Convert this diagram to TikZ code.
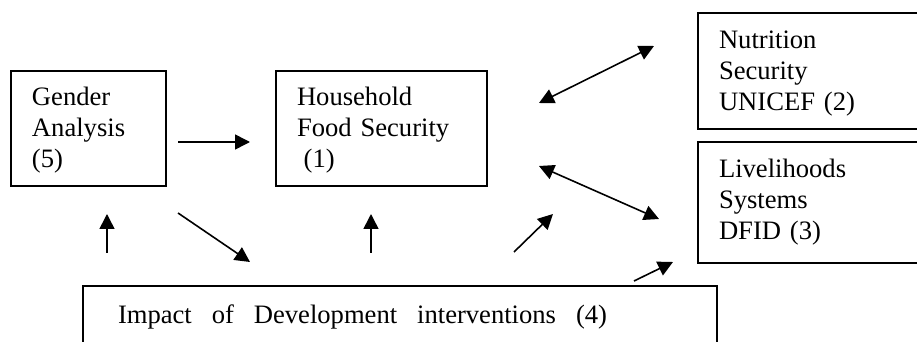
\documentclass[tikz,border=0pt]{standalone}
\usepackage{fontspec}
\setmainfont{Liberation Serif}
\usetikzlibrary{arrows.meta}
\begin{document}
\begin{tikzpicture}[x=0.5pt, y=-0.5pt,
    box/.style={draw, line width=1pt, anchor=north west, align=left, inner xsep=10.5pt, inner ysep=0pt,
      font=\fontsize{13.3}{15.5}\selectfont},
    link/.style={line width=0.8pt, -{Triangle[length=7.5pt, width=7.5pt]}},
    both/.style={line width=0.8pt, {Triangle[length=7.5pt, width=7.5pt]}-{Triangle[length=7.5pt, width=7.5pt]}}]
  \clip (0,0) rectangle (917,342);
  \node[box, text width=56.5pt, text height=17.5pt, text depth=40pt] (gender) at (10,70) {Gender\\Analysis\\(5)};
  \node[box, text width=84.5pt, text height=17.5pt, text depth=40pt] (household) at (275,70) {Household\\Food Security\\\hspace*{.25em}(1)};
  \node[box, text width=99pt, text height=18pt, text depth=40pt] (nutrition) at (697,12) {Nutrition\\Security\\UNICEF (2)};
  \node[box, text width=99pt, text height=18pt, text depth=42.5pt] (livelihoods) at (697,141) {Livelihoods\\Systems\\DFID (3)};
  \node[box, inner xsep=17.5pt, text width=282pt, text height=18.5pt, text depth=20pt] (impact) at (82,285)
    {\makebox[244.5pt]{Impact\hfill of\hfill Development\hfill interventions\hfill (4)}};
  \coordinate (ga) at (178,142);
  \coordinate (ha) at (250,142);
  \coordinate (gb) at (107,253);
  \coordinate (gt) at (107,214);
  \coordinate (da) at (178,213);
  \coordinate (db) at (250,262);
  \coordinate (hb) at (371,253);
  \coordinate (ht) at (371,214);
  \coordinate (ua) at (514,252);
  \coordinate (ub) at (553,214);
  \coordinate (na) at (539,103);
  \coordinate (nb) at (654,46);
  \coordinate (la) at (539,166);
  \coordinate (lb) at (659,219);
  \coordinate (sa) at (634,281);
  \coordinate (sb) at (673,262);
  \draw[link] (ga) -- (ha);
  \draw[link] (gb) -- (gt);
  \draw[link] (da) -- (db);
  \draw[link] (hb) -- (ht);
  \draw[link] (ua) -- (ub);
  \draw[both] (na) -- (nb);
  \draw[both] (la) -- (lb);
  \draw[link] (sa) -- (sb);
\end{tikzpicture}
\end{document}
